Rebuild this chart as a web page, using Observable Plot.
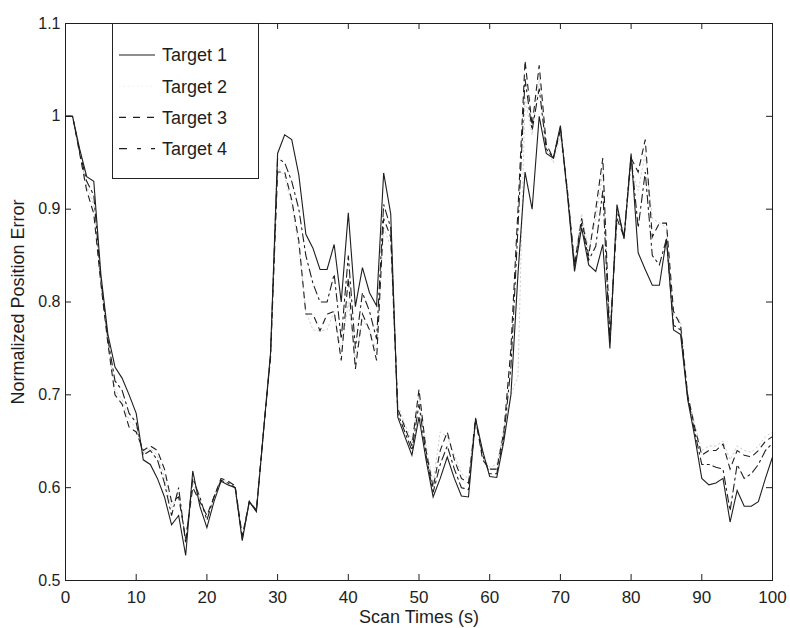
<!DOCTYPE html>
<html>
<head>
<meta charset="utf-8">
<script src="https://cdn.jsdelivr.net/npm/d3@7"></script>
<script src="https://cdn.jsdelivr.net/npm/@observablehq/plot@0.6"></script>
<style>
  body { margin: 0; background: #fff; }
  #wrap { position: relative; width: 790px; height: 628px; background: #fff; }
  #legend { position: absolute; left: 112px; top: 23px; width: 147px; height: 156px;
            border: 1px solid #222; box-sizing: border-box; background: #fff; }
</style>
</head>
<body>
<div id="wrap"></div>
<script>
// ---------- data ----------
const scanTimes = d3.range(0, 101); // 0..100 s, one scan per second

const target1 = [
  1.000,1.000,0.965,0.935,0.930,0.830,0.765,0.730,0.718,0.700,
  0.680,0.630,0.625,0.610,0.590,0.560,0.570,0.527,0.618,0.580,
  0.557,0.585,0.607,0.603,0.600,0.543,0.585,0.574,0.660,0.745,
  0.960,0.980,0.975,0.937,0.873,0.858,0.835,0.835,0.862,0.800,
  0.896,0.795,0.837,0.810,0.796,0.939,0.895,0.676,0.655,0.635,
  0.676,0.630,0.590,0.610,0.633,0.610,0.591,0.590,0.674,0.640,
  0.612,0.611,0.650,0.700,0.830,0.940,0.900,1.000,0.960,0.955,
  0.990,0.915,0.833,0.880,0.840,0.833,0.862,0.750,0.905,0.868,
  0.960,0.853,0.835,0.818,0.818,0.868,0.770,0.765,0.695,0.655,
  0.610,0.603,0.605,0.610,0.563,0.597,0.580,0.580,0.585,0.610,
  0.633];

const target2 = [
  1.000,1.000,0.960,0.925,0.905,0.820,0.758,0.705,0.695,0.672,
  0.665,0.638,0.642,0.635,0.612,0.578,0.595,0.542,0.605,0.588,
  0.568,0.590,0.609,0.606,0.601,0.546,0.585,0.575,0.660,0.740,
  0.945,0.935,0.905,0.860,0.790,0.770,0.769,0.770,0.790,0.745,
  0.800,0.740,0.780,0.770,0.745,0.880,0.860,0.690,0.668,0.650,
  0.700,0.645,0.605,0.660,0.655,0.635,0.615,0.610,0.676,0.632,
  0.622,0.625,0.665,0.700,0.720,1.020,0.980,1.040,0.965,0.950,
  0.980,0.915,0.845,0.895,0.855,0.890,0.940,0.770,0.895,0.875,
  0.945,0.920,0.960,0.890,0.885,0.880,0.785,0.780,0.702,0.668,
  0.640,0.645,0.645,0.650,0.630,0.645,0.640,0.638,0.645,0.655,
  0.660];

const target3 = [
  1.000,1.000,0.960,0.920,0.895,0.820,0.755,0.700,0.690,0.665,
  0.660,0.640,0.645,0.640,0.620,0.585,0.590,0.545,0.600,0.585,
  0.570,0.590,0.610,0.607,0.602,0.548,0.585,0.576,0.660,0.740,
  0.940,0.940,0.910,0.866,0.787,0.787,0.769,0.787,0.790,0.737,
  0.826,0.728,0.787,0.770,0.737,0.890,0.870,0.685,0.665,0.645,
  0.706,0.640,0.600,0.640,0.660,0.630,0.610,0.605,0.675,0.630,
  0.620,0.620,0.660,0.750,0.900,1.060,0.990,1.055,0.970,0.955,
  0.985,0.920,0.840,0.890,0.850,0.900,0.955,0.760,0.890,0.870,
  0.955,0.940,0.975,0.870,0.885,0.885,0.790,0.775,0.700,0.665,
  0.635,0.640,0.640,0.647,0.620,0.640,0.635,0.633,0.640,0.650,
  0.655];

const target4 = [
  1.000,1.000,0.962,0.930,0.915,0.825,0.760,0.715,0.705,0.680,
  0.670,0.635,0.640,0.630,0.605,0.570,0.600,0.540,0.610,0.590,
  0.565,0.590,0.608,0.605,0.600,0.545,0.585,0.575,0.660,0.742,
  0.955,0.950,0.930,0.900,0.850,0.820,0.800,0.800,0.830,0.760,
  0.850,0.750,0.810,0.790,0.760,0.905,0.880,0.680,0.660,0.640,
  0.690,0.635,0.595,0.625,0.645,0.620,0.600,0.598,0.673,0.635,
  0.615,0.615,0.655,0.730,0.880,1.040,0.985,1.030,0.965,0.955,
  0.988,0.918,0.838,0.885,0.845,0.860,0.920,0.755,0.900,0.870,
  0.958,0.880,0.940,0.850,0.840,0.868,0.775,0.770,0.698,0.660,
  0.625,0.625,0.622,0.620,0.575,0.625,0.610,0.615,0.625,0.640,
  0.648];

const seriesNames = ["Target 1", "Target 2", "Target 3", "Target 4"];
const xTicks = [0, 10, 20, 30, 40, 50, 60, 70, 80, 90, 100];
const yTicks = [0.5, 0.6, 0.7, 0.8, 0.9, 1, 1.1];
const xLabel = "Scan Times (s)";
const yLabel = "Normalized Position Error";

// ---------- styles ----------
const FONT = '"Liberation Sans", Arial, Helvetica, sans-serif';
const INK = "#1e1e1e";
const styles = {
  "Target 1": { stroke: INK, dash: null, width: 1.1 },
  "Target 2": { stroke: "#cfcfcf", dash: "1.5,3", width: 1.0 },
  "Target 3": { stroke: INK, dash: "6,5", width: 1.1 },
  "Target 4": { stroke: INK, dash: "8,4,2,4", width: 1.1 }
};

const seriesValues = { "Target 1": target1, "Target 2": target2, "Target 3": target3, "Target 4": target4 };
const tableFor = name => scanTimes.map((t, i) => ({ t, v: seriesValues[name][i] }));

const W = 790, H = 628, mL = 65, mR = 18, mT = 23, mB = 48;
const plotW = W - mL - mR, plotH = H - mT - mB;
const tickLen = 6;

const lineMark = name => Plot.line(tableFor(name), {
  x: "t", y: "v", stroke: styles[name].stroke, strokeWidth: styles[name].width,
  strokeDasharray: styles[name].dash, strokeLinejoin: "miter", strokeMiterlimit: 4
});

const chart = Plot.plot({
  width: W, height: H,
  marginLeft: mL, marginRight: mR, marginTop: mT, marginBottom: mB,
  style: { fontFamily: FONT, background: "#fff", color: INK, overflow: "visible" },
  x: { domain: [0, 100] },
  y: { domain: [0.5, 1.1] },
  marks: [
    Plot.axisX({ ticks: xTicks, tickSize: 0, tickPadding: 10, fontSize: 17, label: null, fill: INK }),
    Plot.axisY({ ticks: yTicks, tickSize: 0, tickPadding: 5, fontSize: 16, label: null, fill: INK,
                 tickFormat: d => String(+d.toFixed(1)) }),
    // inward ticks on all four sides (MATLAB box style)
    Plot.tickX(xTicks, { x: d => d, insetTop: plotH - tickLen, stroke: INK }),
    Plot.tickX(xTicks, { x: d => d, insetBottom: plotH - tickLen, stroke: INK }),
    Plot.tickY(yTicks, { y: d => d, insetRight: plotW - tickLen, stroke: INK }),
    Plot.tickY(yTicks, { y: d => d, insetLeft: plotW - tickLen, stroke: INK }),
    lineMark("Target 2"),
    lineMark("Target 4"),
    lineMark("Target 3"),
    lineMark("Target 1"),
    Plot.frame({ stroke: INK, strokeWidth: 1 }),
    Plot.text([xLabel], { text: d => d, frameAnchor: "bottom", dy: 30, lineAnchor: "top",
                          textAnchor: "middle", fontSize: 18, fill: INK }),
    Plot.text([yLabel], { text: d => d, frameAnchor: "left", dx: -47, rotate: -90,
                          textAnchor: "middle", lineAnchor: "middle", fontSize: 18, fill: INK })
  ]
});

const wrap = document.getElementById("wrap");
wrap.appendChild(chart);

// ---------- legend (MATLAB-style box inside the axes) ----------
const legend = document.createElement("div");
legend.id = "legend";
const ns = "http://www.w3.org/2000/svg";
const lsvg = document.createElementNS(ns, "svg");
lsvg.setAttribute("width", 145);
lsvg.setAttribute("height", 154);
lsvg.style.display = "block";
seriesNames.forEach((name, i) => {
  const cy = 31 + i * 31.2;
  const ln = document.createElementNS(ns, "line");
  ln.setAttribute("x1", 6); ln.setAttribute("x2", 42);
  ln.setAttribute("y1", cy); ln.setAttribute("y2", cy);
  ln.setAttribute("stroke", name === "Target 2" ? "#ececec" : styles[name].stroke);
  ln.setAttribute("stroke-width", styles[name].width);
  if (styles[name].dash) ln.setAttribute("stroke-dasharray", name === "Target 3" ? "7,7" : (name === "Target 4" ? "8,10,4,10" : styles[name].dash));
  lsvg.appendChild(ln);
  const tx = document.createElementNS(ns, "text");
  tx.setAttribute("x", 49); tx.setAttribute("y", cy);
  tx.setAttribute("dy", "0.35em");
  tx.setAttribute("font-family", FONT);
  tx.setAttribute("font-size", 18);
  tx.setAttribute("fill", INK);
  tx.textContent = name;
  lsvg.appendChild(tx);
});
legend.appendChild(lsvg);
wrap.appendChild(legend);
</script>
</body>
</html>
